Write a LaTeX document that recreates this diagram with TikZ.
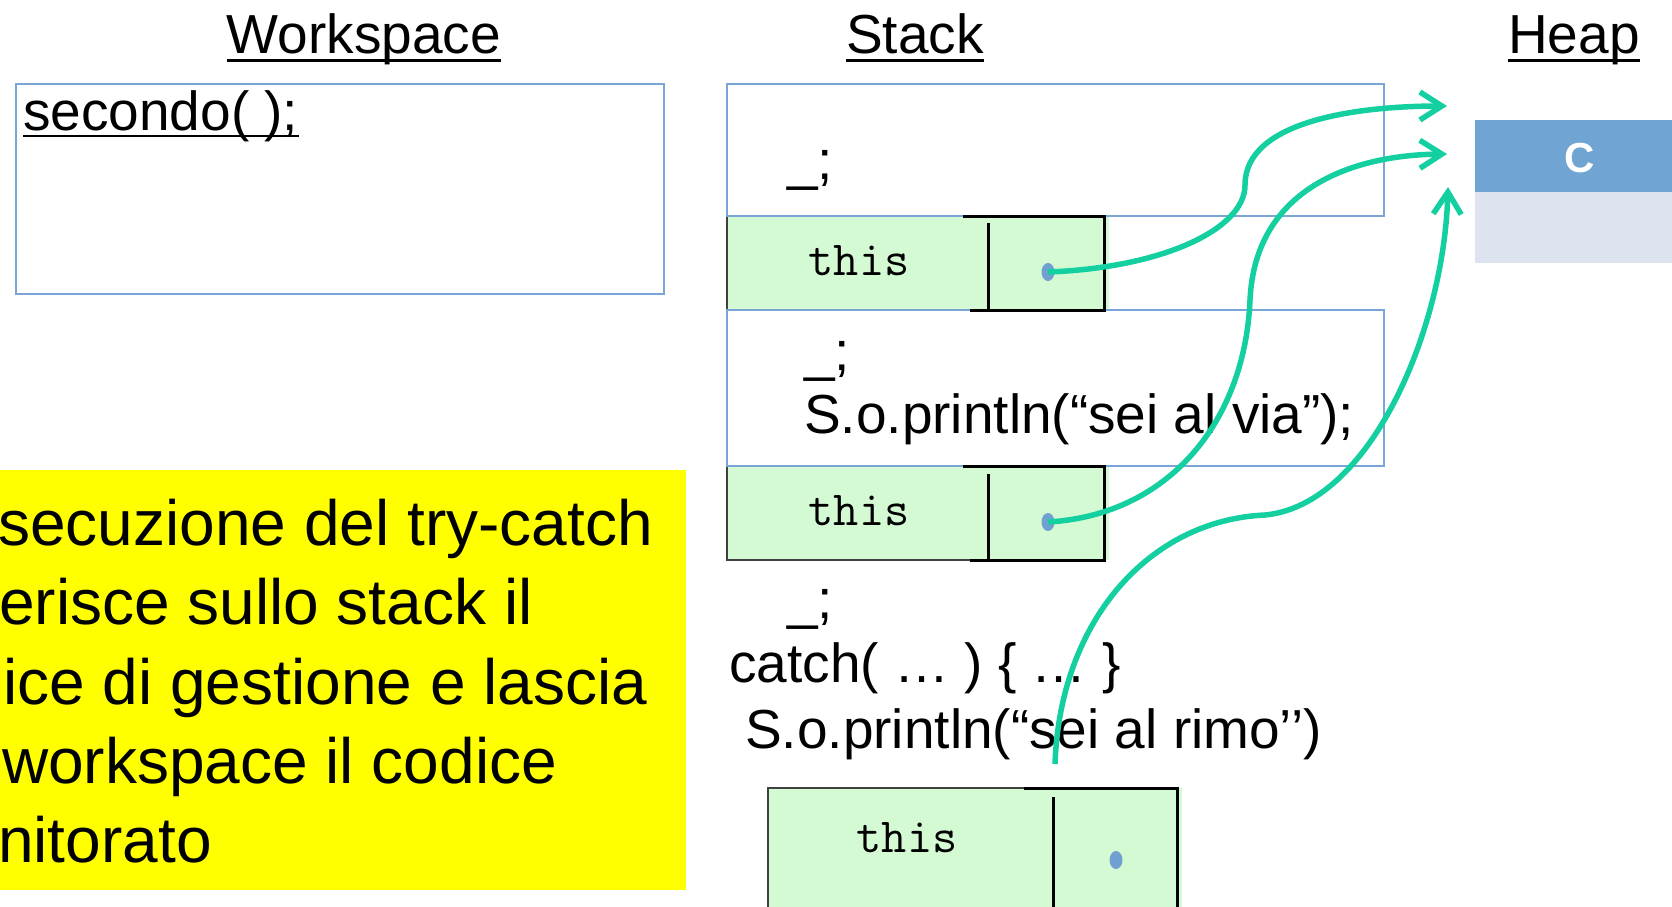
\documentclass[tikz,border=0pt]{standalone}
\usepackage{fontspec}
\setmainfont{Liberation Sans}
\usetikzlibrary{arrows.meta,shapes.geometric}
\definecolor{frameblue}{RGB}{122,166,214}
\definecolor{cellgreen}{RGB}{212,250,212}
\definecolor{heapdark}{RGB}{112,164,210}
\definecolor{heaplight}{RGB}{221,227,239}
\definecolor{refteal}{RGB}{20,207,160}
\definecolor{dotblue}{RGB}{112,160,210}
\definecolor{noteyellow}{RGB}{255,255,0}
\tikzset{
  stackframe/.style={draw=frameblue, line width=2pt},
  cell/.style={fill=cellgreen, draw=black!75, line width=1.2pt},
  wall/.style={draw=black, line width=3pt},
  uline/.style={draw=black, line width=3pt},
  refdot/.style={ellipse, fill=dotblue, inner sep=0pt, minimum width=13pt, minimum height=18pt},
  ptr/.style={draw=refteal, line width=5.5pt, -{Straight Barb[length=22pt,width=28pt]}},
  title/.style={font=\fontsize{55}{66}\selectfont, inner sep=0pt, anchor=base},
  code/.style={font=\fontsize{55}{66}\selectfont, inner sep=0pt, anchor=base west},
  ttlabel/.style={font=\ttfamily\fontsize{49}{58}\selectfont, inner sep=0pt, anchor=base},
  note/.style={font=\fontsize{64}{79}\selectfont, inner sep=0pt, anchor=base west}
}
\begin{document}
\begin{tikzpicture}[x=1pt,y=-1pt]
\useasboundingbox (0,0) rectangle (1672,906);
% titles
\node [title] (ws) at (364,53) {Workspace};
\node [title] (st) at (915,53) {Stack};
\node [title] (hp) at (1574,53) {Heap};
\draw [uline] ([yshift=-7pt]ws.base west) -- ([yshift=-7pt]ws.base east);
\draw [uline] ([yshift=-7pt]st.base west) -- ([yshift=-7pt]st.base east);
\draw [uline] ([yshift=-7pt]hp.base west) -- ([yshift=-7pt]hp.base east);
% workspace
\draw [stackframe] (16,84) rectangle (664,294);
\node [code] (call) at (23,130) {secondo( );};
\draw [uline, line width=2.7pt] ([yshift=-6pt]call.base west) -- ([yshift=-6pt]call.base east);
% stack
\fill [cellgreen] (1104,216) rectangle (1109,310);
\fill [cellgreen] (1104,466) rectangle (1109,560);
\fill [cellgreen] (1177,788) rectangle (1182,920);
\draw [cell] (727,216) rectangle (1104,310);
\draw [cell] (727,466) rectangle (1104,560);
\draw [cell] (768,788) rectangle (1177,920);
\draw [stackframe] (727,84) rectangle (1384,216);
\draw [stackframe] (727,310) rectangle (1384,466);
\draw [wall] (963,216) -- (1104,216) -- (1104,310) -- (970,310);
\draw [wall] (988,223) -- (988,310);
\draw [wall] (963,466) -- (1104,466) -- (1104,560) -- (970,560);
\draw [wall] (988,474) -- (988,560);
\draw [wall] (1024,788) -- (1177,788) -- (1177,920);
\draw [wall] (1053,797) -- (1053,920);
\node [ttlabel] (this1) at (859,275) {this};
\node [ttlabel] (this2) at (859,525) {this};
\node [ttlabel] (this3) at (907,852) {this};
\node [code] (s1) at (787,179) {\_;};
\node [code] (s2) at (804,370) {\_;};
\node [code] (s3) at (804,433) {S.o.println(“sei al via”);};
\node [code] (s4) at (787,618) {\_;};
\node [code] (s5) at (729,682) {catch( … ) \{ … \}};
\node [code] (s6) at (745,748) {S.o.println(“sei al rimo’’)};
% heap
\fill [heapdark] (1475,120) rectangle (1672,192);
\fill [heaplight] (1475,192) rectangle (1672,263);
\node [font=\bfseries\fontsize{42}{50}\selectfont, text=white] (cls) at (1580,158) {C};
% note
\begin{scope}
\clip (0,470) rectangle (686,890);
\fill [noteyellow] (0,470) rectangle (686,890);
\node [note] (m1) at (-2,545) {secuzione del try-catch};
\node [note] (m2) at (-1,624) {erisce sullo stack il};
\node [note] (m3) at (3,704) {ice di gestione e lascia};
\node [note] (m4) at (2,783) {workspace il codice};
\node [note] (m5) at (-2,862) {nitorato};
\end{scope}
% references
\node [refdot] (d1) at (1048,272) {};
\node [refdot] (d2) at (1048,522) {};
\node [refdot] (d3) at (1116,860) {};
\coordinate (h1) at (1447,106);
\coordinate (h2) at (1447,154);
\coordinate (h3) at (1448,187);
\coordinate (e3) at (1055,764);
\draw [ptr] (d1.center) .. controls (1160,268) and (1245,230) .. (1245,185) .. controls (1245,120) and (1360,106) .. (h1);
\draw [ptr] (d2.center) .. controls (1170,515) and (1245,420) .. (1250,300) .. controls (1255,190) and (1350,155) .. (h2);
\draw [ptr] (e3) .. controls (1060,620) and (1150,520) .. (1265,515) .. controls (1370,505) and (1444,330) .. (h3);
\end{tikzpicture}
\end{document}
